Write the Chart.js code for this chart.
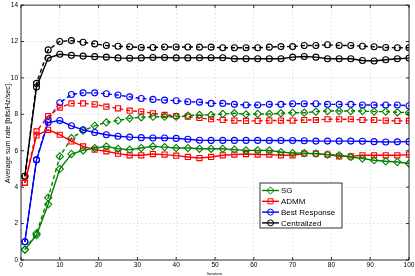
<!DOCTYPE html>
<html>
<head>
<meta charset="utf-8">
<script src="https://cdn.jsdelivr.net/npm/chart.js@4.4.0/dist/chart.umd.min.js"></script>
<style>
  html,body{margin:0;padding:0;background:#fff}
  #wrap{width:415px;height:276px}
</style>
</head>
<body>
<div id="wrap"><canvas id="c" width="415" height="276"></canvas></div>
<script>
// iteraties (elke 3e stap) en gemiddelde sum rate per methode
const iterations=[1,4,7,10,13,16,19,22,25,28,31,34,37,40,43,46,49,52,55,58,61,64,67,70,73,76,79,82,85,88,91,94,97,100];

const sgSolid=[0.57,1.37,3.06,5.0,5.82,6.02,6.15,6.24,6.11,6.06,6.15,6.24,6.2,6.15,6.15,6.11,6.11,6.11,6.06,6.02,6.02,6.02,5.93,5.87,5.87,5.84,5.79,5.75,5.66,5.57,5.48,5.42,5.38,5.3];
const sgDash=[0.57,1.46,3.42,5.69,6.69,7.1,7.37,7.56,7.66,7.78,7.84,7.87,7.87,7.87,7.93,7.97,7.97,8.02,8.06,8.0,8.02,8.02,8.06,8.09,8.09,8.15,8.18,8.18,8.18,8.18,8.15,8.15,8.11,8.09];

const admmSolid=[4.24,6.84,7.15,6.88,6.51,6.24,6.06,5.97,5.84,5.75,5.75,5.82,5.79,5.73,5.66,5.6,5.66,5.75,5.79,5.82,5.79,5.79,5.75,5.75,5.84,5.84,5.79,5.69,5.69,5.75,5.75,5.75,5.75,5.79];
const admmDash=[4.24,7.06,7.91,8.37,8.6,8.6,8.55,8.42,8.33,8.2,8.15,8.06,7.97,7.91,7.87,7.8,7.73,7.69,7.66,7.64,7.64,7.66,7.66,7.66,7.69,7.69,7.73,7.73,7.73,7.69,7.69,7.66,7.64,7.64];

const brSolid=[1.0,5.5,7.55,7.66,7.37,7.15,7.0,6.88,6.8,6.75,6.72,6.7,6.7,6.68,6.63,6.58,6.57,6.57,6.57,6.57,6.57,6.56,6.56,6.56,6.55,6.53,6.53,6.53,6.53,6.52,6.5,6.48,6.49,6.5];
const brDash=[1.0,5.5,7.7,8.64,9.09,9.18,9.18,9.13,9.06,8.96,8.87,8.82,8.78,8.75,8.69,8.67,8.6,8.6,8.55,8.51,8.51,8.55,8.55,8.58,8.58,8.58,8.55,8.55,8.55,8.51,8.51,8.51,8.51,8.47];

const cenSolid=[4.6,9.5,11.09,11.3,11.24,11.2,11.17,11.14,11.1,11.08,11.1,11.12,11.12,11.1,11.1,11.11,11.11,11.11,11.05,11.05,11.05,11.05,11.05,11.14,11.18,11.14,11.05,11.05,11.05,10.96,10.93,11.0,11.05,11.09];
const cenDash=[4.6,9.7,11.54,12.0,12.05,11.96,11.87,11.78,11.74,11.71,11.67,11.67,11.7,11.7,11.7,11.69,11.69,11.66,11.66,11.66,11.66,11.69,11.72,11.72,11.78,11.78,11.82,11.78,11.78,11.74,11.71,11.67,11.66,11.66];

const xTicks=[0,10,20,30,40,50,60,70,80,90,100];
const yTicks=[0,2,4,6,8,10,12,14];

const FONT='"Liberation Sans", Arial, Helvetica, sans-serif';
const COL={ sg:'#008000', admm:'#ff0000', br:'#0000ff', cen:'#000000' };

function pts(vals){ return iterations.map((it,i)=>({x:it,y:vals[i]})); }

function series(label,vals,color,style,dashed){
  return {
    label, data:pts(vals), inLegend:!dashed,
    borderColor:color, backgroundColor:'rgba(0,0,0,0)', borderWidth:1.4,
    borderDash:dashed?[4,3]:[],
    pointStyle:style, pointRadius:style==='circle'?3:3.6, pointBorderWidth:1.1,
    pointBackgroundColor:'rgba(0,0,0,0)', pointBorderColor:color,
    tension:0, fill:false
  };
}

// kader rond de plot + korte tickjes naar binnen (zoals matlab)
const frame={
  id:'frame',
  afterDatasetsDraw(chart){
    const {ctx,chartArea:a,scales}=chart;
    ctx.save();
    ctx.strokeStyle='#000'; ctx.lineWidth=0.8; ctx.setLineDash([]);
    ctx.strokeRect(a.left,a.top,a.right-a.left,a.bottom-a.top);
    ctx.beginPath();
    xTicks.forEach(v=>{ const px=scales.x.getPixelForValue(v); ctx.moveTo(px,a.bottom); ctx.lineTo(px,a.bottom-3); ctx.moveTo(px,a.top); ctx.lineTo(px,a.top+3); });
    yTicks.forEach(v=>{ const py=scales.y.getPixelForValue(v); ctx.moveTo(a.left,py); ctx.lineTo(a.left+3,py); ctx.moveTo(a.right,py); ctx.lineTo(a.right-3,py); });
    ctx.stroke();
    ctx.restore();
  }
};

// legenda in de plot, lijn + marker per methode
const legendBox={
  id:'legendBox',
  afterDraw(chart){
    const ctx=chart.ctx;
    const items=chart.data.datasets.filter(d=>d.inLegend);
    const x0=260,y0=183,w=82,h=45;
    ctx.save();
    ctx.fillStyle='#fff'; ctx.fillRect(x0,y0,w,h);
    ctx.strokeStyle='#000'; ctx.lineWidth=0.8; ctx.strokeRect(x0,y0,w,h);
    ctx.font='8px '+FONT; ctx.textBaseline='middle'; ctx.textAlign='left';
    items.forEach((d,i)=>{
      const y=y0+7.5+i*10.8;
      ctx.setLineDash([]);
      ctx.strokeStyle=d.borderColor; ctx.lineWidth=d.borderWidth;
      ctx.beginPath(); ctx.moveTo(x0+2,y); ctx.lineTo(x0+19,y); ctx.stroke();
      ctx.fillStyle='rgba(0,0,0,0)'; ctx.lineWidth=1;
      Chart.helpers.drawPoint(ctx,{pointStyle:d.pointStyle,radius:d.pointRadius,borderWidth:1,rotation:0},x0+10.5,y);
      ctx.fillStyle='#000';
      ctx.fillText(d.label,x0+21,y+0.5);
    });
    ctx.restore();
  }
};

const ctx=document.getElementById('c').getContext('2d');
new Chart(ctx,{
  type:'line',
  data:{
    datasets:[
      series('SG',sgSolid,COL.sg,'rectRot',false),
      series('ADMM',admmSolid,COL.admm,'rect',false),
      series('Best Response',brSolid,COL.br,'circle',false),
      series('Centralized',cenSolid,COL.cen,'circle',false),
      series('SG (dash)',sgDash,COL.sg,'rectRot',true),
      series('ADMM (dash)',admmDash,COL.admm,'rect',true),
      series('Best Response (dash)',brDash,COL.br,'circle',true),
      series('Centralized (dash)',cenDash,COL.cen,'circle',true)
    ]
  },
  options:{
    responsive:false, animation:false, devicePixelRatio:1,
    layout:{ padding:{ left:0, right:6, top:3, bottom:0 } },
    plugins:{ legend:{display:false}, tooltip:{enabled:false} },
    scales:{
      x:{
        type:'linear', min:0, max:100,
        afterBuildTicks:s=>{ s.ticks=xTicks.map(v=>({value:v})); },
        afterFit:s=>{ s.height=16; s.paddingLeft=0; s.paddingRight=0; },
        ticks:{ color:'#000', font:{size:6.5,family:FONT}, padding:1, maxRotation:0, autoSkip:false },
        grid:{ color:'#c4c4c4', lineWidth:0.8, drawTicks:false },
        border:{ display:false, dash:[1,3] },
        title:{ display:true, text:'Iteration.', color:'#000', font:{size:4.2,family:FONT}, padding:{top:0,bottom:0} }
      },
      y:{
        type:'linear', min:0, max:14,
        afterBuildTicks:s=>{ s.ticks=yTicks.map(v=>({value:v})); },
        afterFit:s=>{ s.width=21; s.paddingTop=0; s.paddingBottom=0; },
        ticks:{ color:'#000', font:{size:6.5,family:FONT}, padding:3, autoSkip:false },
        grid:{ color:'#c4c4c4', lineWidth:0.8, drawTicks:false },
        border:{ display:false, dash:[1,3] },
        title:{ display:true, text:'Average sum rate [bits/Hz/sec].', color:'#000', font:{size:7.3,family:FONT}, padding:{top:3.5,bottom:0} }
      }
    }
  },
  plugins:[frame,legendBox]
});
</script>
</body>
</html>
